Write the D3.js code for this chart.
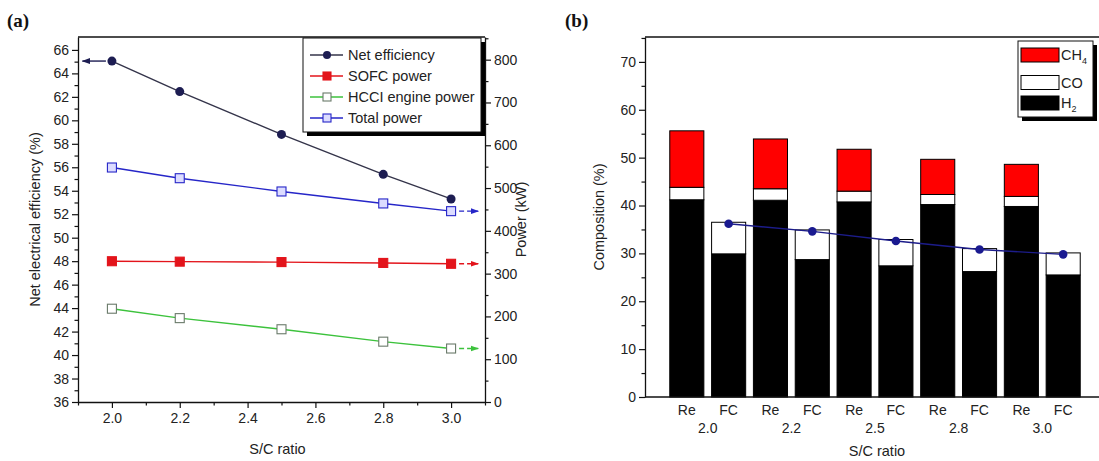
<!DOCTYPE html>
<html><head><meta charset="utf-8">
<script src="https://cdn.jsdelivr.net/npm/d3@7"></script>
<style>
body{margin:0;background:#fff}
svg text{font-family:"Liberation Sans",Arial,sans-serif;fill:#222}
</style>
</head><body>
<svg id="c" width="1099" height="461"></svg>
<script>
// ---------- Panel (a) data ----------
const scRatio = [2.0, 2.2, 2.5, 2.8, 3.0];
const netEfficiency = [65.05, 62.45, 58.8, 55.4, 53.3];
const sofcPower = [329, 328, 327, 325, 323];
const hcciPower = [218, 196, 170, 141, 125];
const totalPower = [548, 523, 492, 464, 446];
const xTicksA = [2.0, 2.2, 2.4, 2.6, 2.8, 3.0];
const effTicks = [36, 38, 40, 42, 44, 46, 48, 50, 52, 54, 56, 58, 60, 62, 64, 66];
const powerTicks = [0, 100, 200, 300, 400, 500, 600, 700, 800];
const seriesNamesA = ["Net efficiency", "SOFC power", "HCCI engine power", "Total power"];

// ---------- Panel (b) data ----------
const groupLabels = ["2.0", "2.2", "2.5", "2.8", "3.0"];
const barKinds = ["Re", "FC", "Re", "FC", "Re", "FC", "Re", "FC", "Re", "FC"];
const h2 = [41.2, 29.9, 41.1, 28.7, 40.75, 27.4, 40.2, 26.2, 39.8, 25.5];
const co = [2.6, 6.6, 2.4, 6.2, 2.25, 5.5, 2.1, 4.8, 2.1, 4.6];
const ch4 = [11.8, 0, 10.4, 0, 8.75, 0, 7.35, 0, 6.7, 0];
const fcLine = [36.2, 34.6, 32.6, 30.8, 29.8];
const compTicks = [0, 10, 20, 30, 40, 50, 60, 70];

const svg = d3.select("#c");
const FONT = 14;

// ================= Panel (a) =================
const A = {l: 78, r: 485, t: 37, b: 402};
const xA = d3.scaleLinear().domain([1.9, 3.1]).range([A.l, A.r]);
const yEff = d3.scaleLinear().domain([36, 67.1]).range([A.b, A.t]);
const yPow = d3.scaleLinear().domain([0, 853]).range([A.b, A.t]);

const gA = svg.append("g");
gA.append("text").attr("x", 7).attr("y", 27).text("(a)")
  .style("font-family", "'Liberation Serif','Times New Roman',serif")
  .style("font-weight", "bold").style("font-size", "19px").style("fill", "#111");

function styleAxis(g) {
  g.selectAll("path.domain").attr("stroke", "#111").attr("stroke-width", 1.3);
  g.selectAll(".tick line").attr("stroke", "#111").attr("stroke-width", 1.2);
  g.selectAll(".tick text").style("font-size", FONT + "px").style("fill", "#222")
    .style("font-family", "'Liberation Sans',Arial,sans-serif");
}

// minor ticks
gA.append("g").attr("transform", `translate(${A.l},0)`)
  .call(d3.axisLeft(yEff).tickValues(d3.range(37, 67, 2)).tickSize(3.5).tickFormat(""))
  .call(g => g.select(".domain").remove()).call(styleAxis);
gA.append("g").attr("transform", `translate(${A.r},0)`)
  .call(d3.axisRight(yPow).tickValues(d3.range(50, 851, 100)).tickSize(3.5).tickFormat(""))
  .call(g => g.select(".domain").remove()).call(styleAxis);
gA.append("g").attr("transform", `translate(0,${A.b})`)
  .call(d3.axisBottom(xA).tickValues([1.9, 2.1, 2.3, 2.5, 2.7, 2.9, 3.1]).tickSize(3.5).tickFormat(""))
  .call(g => g.select(".domain").remove()).call(styleAxis);

// major axes
gA.append("g").attr("transform", `translate(${A.l},0)`)
  .call(d3.axisLeft(yEff).tickValues(effTicks).tickSize(6).tickSizeOuter(0).tickPadding(3).tickFormat(d3.format("d")))
  .call(styleAxis);
gA.append("g").attr("transform", `translate(${A.r},0)`)
  .call(d3.axisRight(yPow).tickValues(powerTicks).tickSize(6).tickSizeOuter(0).tickPadding(3).tickFormat(d3.format("d")))
  .call(styleAxis);
gA.append("g").attr("transform", `translate(0,${A.b})`)
  .call(d3.axisBottom(xA).tickValues(xTicksA).tickSize(6).tickSizeOuter(0).tickPadding(5).tickFormat(d3.format(".1f")))
  .call(styleAxis);
gA.append("line").attr("x1", A.l).attr("x2", A.r).attr("y1", A.t).attr("y2", A.t)
  .attr("stroke", "#111").attr("stroke-width", 1.3);

// axis titles
gA.append("text").attr("transform", `translate(40,${(A.t + A.b) / 2}) rotate(-90)`)
  .attr("text-anchor", "middle").style("font-size", "14.5px").text("Net electrical efficiency (%)");
gA.append("text").attr("transform", `translate(526,${(A.t + A.b) / 2}) rotate(-90)`)
  .attr("text-anchor", "middle").style("font-size", "14.5px").text("Power (kW)");
gA.append("text").attr("x", (A.l + A.r) / 2 - 4).attr("y", 454)
  .attr("text-anchor", "middle").style("font-size", "14.5px").text("S/C ratio");

// arrowhead defs
const defs = svg.append("defs");
function marker(id, color) {
  defs.append("marker").attr("id", id).attr("viewBox", "0 0 10 10").attr("refX", 9).attr("refY", 5)
    .attr("markerWidth", 6).attr("markerHeight", 6).attr("orient", "auto-start-reverse")
    .append("path").attr("d", "M0,1.5 L10,5 L0,8.5 Z").attr("fill", color);
}
const cNet = "#1d1d52", cNetLine = "#34344a", cSofc = "#e3141b", cHcci = "#3cc23c", cTot = "#2626c8";
marker("mNet", cNet); marker("mSofc", cSofc); marker("mHcci", cHcci); marker("mTot", cTot);

const series = [
  {vals: netEfficiency, y: yEff, color: cNetLine, mcol: cNet, shape: "circle", fill: cNet, arrow: "left", mk: "mNet"},
  {vals: sofcPower, y: yPow, color: cSofc, mcol: cSofc, shape: "square", fill: cSofc, arrow: "right", mk: "mSofc"},
  {vals: hcciPower, y: yPow, color: cHcci, mcol: "#6a7a6a", shape: "square", fill: "#fff", arrow: "right", mk: "mHcci"},
  {vals: totalPower, y: yPow, color: cTot, mcol: cTot, shape: "square", fill: "#dcdcff", arrow: "right", mk: "mTot"}
];

series.forEach(s => {
  const pts = scRatio.map((x, i) => [x, s.vals[i]]);
  gA.append("path").datum(pts)
    .attr("d", d3.line().x(d => xA(d[0])).y(d => s.y(d[1])))
    .attr("fill", "none").attr("stroke", s.color).attr("stroke-width", 1.4);
  // arrow towards its axis
  if (s.arrow === "left") {
    const v = s.vals[0];
    gA.append("line").attr("x1", xA(scRatio[0]) - 6).attr("x2", xA(1.913))
      .attr("y1", s.y(v)).attr("y2", s.y(v))
      .attr("stroke", s.mcol).attr("stroke-width", 1.4).attr("marker-end", `url(#${s.mk})`);
  } else {
    const v = s.vals[s.vals.length - 1];
    gA.append("line").attr("x1", xA(scRatio[scRatio.length - 1]) + 8).attr("x2", xA(3.08))
      .attr("y1", s.y(v)).attr("y2", s.y(v))
      .attr("stroke", s.color).attr("stroke-width", 1.4).attr("stroke-dasharray", "5,3")
      .attr("marker-end", `url(#${s.mk})`);
  }
  pts.forEach(d => {
    if (s.shape === "circle") {
      gA.append("circle").attr("cx", xA(d[0])).attr("cy", s.y(d[1])).attr("r", 4.5).attr("fill", s.fill);
    } else {
      gA.append("rect").attr("x", xA(d[0]) - 4.5).attr("y", s.y(d[1]) - 4.5).attr("width", 9).attr("height", 9)
        .attr("fill", s.fill).attr("stroke", s.mcol).attr("stroke-width", 1.1);
    }
  });
});

// legend (a)
const LA = {x: 303, y: 38, w: 178, h: 94};
gA.append("rect").attr("x", LA.x + 4).attr("y", LA.y + 4).attr("width", LA.w).attr("height", LA.h).attr("fill", "#000");
gA.append("rect").attr("x", LA.x).attr("y", LA.y).attr("width", LA.w).attr("height", LA.h)
  .attr("fill", "#fff").attr("stroke", "#111").attr("stroke-width", 1);
const legRowY = d3.scalePoint().domain(seriesNamesA).range([55, 118]);
series.forEach((s, i) => {
  const y = legRowY(seriesNamesA[i]);
  gA.append("line").attr("x1", LA.x + 7).attr("x2", LA.x + 40).attr("y1", y).attr("y2", y)
    .attr("stroke", s.color).attr("stroke-width", 1.4);
  if (s.shape === "circle") gA.append("circle").attr("cx", LA.x + 24).attr("cy", y).attr("r", 4).attr("fill", s.fill);
  else gA.append("rect").attr("x", LA.x + 20).attr("y", y - 4).attr("width", 8).attr("height", 8)
    .attr("fill", s.fill).attr("stroke", s.mcol).attr("stroke-width", 1.1);
  gA.append("text").attr("x", LA.x + 45).attr("y", y).attr("dy", "0.36em").style("font-size", "14.5px")
    .text(seriesNamesA[i]);
});

// ================= Panel (b) =================
const B = {l: 645, r: 1105, t: 37, b: 397};
const xB = d3.scaleLinear().domain([0, 11]).range([B.l, B.r]);
const yB = d3.scaleLinear().domain([0, 75.2]).range([B.b, B.t]);
const gB = svg.append("g");

gB.append("text").attr("x", 565).attr("y", 27).text("(b)")
  .style("font-family", "'Liberation Serif','Times New Roman',serif")
  .style("font-weight", "bold").style("font-size", "19px").style("fill", "#111");

const rows = barKinds.map((k, i) => ({i, kind: k, H2: h2[i], CO: co[i], CH4: ch4[i]}));
const stack = d3.stack().keys(["H2", "CO", "CH4"])(rows);
const fills = {H2: "#000", CO: "#fff", CH4: "#ff0000"};
const bw = 0.815;
stack.forEach(layer => {
  gB.append("g").selectAll("rect").data(layer.filter(d => d[1] - d[0] > 0)).join("rect")
    .attr("x", d => xB(d.data.i + 1 - bw / 2))
    .attr("width", d => xB(bw) - xB(0))
    .attr("y", d => yB(d[1]))
    .attr("height", d => yB(d[0]) - yB(d[1]))
    .attr("fill", fills[layer.key]).attr("stroke", "#000").attr("stroke-width", 1);
});

// FC line
const fcIdx = barKinds.map((k, i) => k === "FC" ? i : -1).filter(i => i >= 0);
const fcPts = fcIdx.map((bi, j) => [bi + 1, fcLine[j]]);
gB.append("path").datum(fcPts).attr("d", d3.line().x(d => xB(d[0])).y(d => yB(d[1])))
  .attr("fill", "none").attr("stroke", "#1c1c8a").attr("stroke-width", 1.4);
gB.selectAll("circle.fc").data(fcPts).join("circle").attr("class", "fc")
  .attr("cx", d => xB(d[0])).attr("cy", d => yB(d[1])).attr("r", 4.3).attr("fill", "#1a1a90");

// axes (b)
gB.append("g").attr("transform", `translate(${B.l},0)`)
  .call(d3.axisLeft(yB).tickValues(d3.range(5, 76, 10)).tickSize(3.5).tickFormat(""))
  .call(g => g.select(".domain").remove()).call(styleAxis);
gB.append("g").attr("transform", `translate(${B.l},0)`)
  .call(d3.axisLeft(yB).tickValues(compTicks).tickSize(6).tickSizeOuter(0).tickPadding(3).tickFormat(d3.format("d")))
  .call(styleAxis);
gB.append("line").attr("x1", B.l).attr("x2", B.r).attr("y1", B.b).attr("y2", B.b).attr("stroke", "#111").attr("stroke-width", 1.3);
gB.append("line").attr("x1", B.l).attr("x2", B.r).attr("y1", B.t).attr("y2", B.t).attr("stroke", "#111").attr("stroke-width", 1.3);

// category labels
barKinds.forEach((k, i) => {
  gB.append("text").attr("x", xB(i + 1)).attr("y", 415).attr("text-anchor", "middle")
    .style("font-size", FONT + "px").text(k);
});
groupLabels.forEach((g, j) => {
  gB.append("text").attr("x", xB(2 * j + 1.5)).attr("y", 433).attr("text-anchor", "middle")
    .style("font-size", FONT + "px").text(g);
});
gB.append("text").attr("x", 877).attr("y", 456).attr("text-anchor", "middle")
  .style("font-size", "14.5px").text("S/C ratio");
gB.append("text").attr("transform", `translate(604,${(B.t + B.b) / 2}) rotate(-90)`)
  .attr("text-anchor", "middle").style("font-size", "14.5px").text("Composition (%)");

// legend (b)
const LB = {x: 1018, y: 41, w: 75, h: 76};
gB.append("rect").attr("x", LB.x + 4).attr("y", LB.y + 4).attr("width", LB.w).attr("height", LB.h).attr("fill", "#000");
gB.append("rect").attr("x", LB.x).attr("y", LB.y).attr("width", LB.w).attr("height", LB.h)
  .attr("fill", "#fff").attr("stroke", "#111").attr("stroke-width", 1);
const legB = [{k: "CH4", base: "CH", sub: "4", y: 55}, {k: "CO", base: "CO", sub: "", y: 82.5}, {k: "H2", base: "H", sub: "2", y: 103}];
legB.forEach(d => {
  gB.append("rect").attr("x", LB.x + 3).attr("y", d.y - 7).attr("width", 38).attr("height", 14)
    .attr("fill", fills[d.k]).attr("stroke", "#000").attr("stroke-width", 1);
  const t = gB.append("text").attr("x", LB.x + 43).attr("y", d.y).attr("dy", "0.36em").style("font-size", "14.5px");
  t.append("tspan").text(d.base);
  if (d.sub) t.append("tspan").attr("dy", "4").style("font-size", "9px").text(d.sub);
});
</script>
</body></html>
